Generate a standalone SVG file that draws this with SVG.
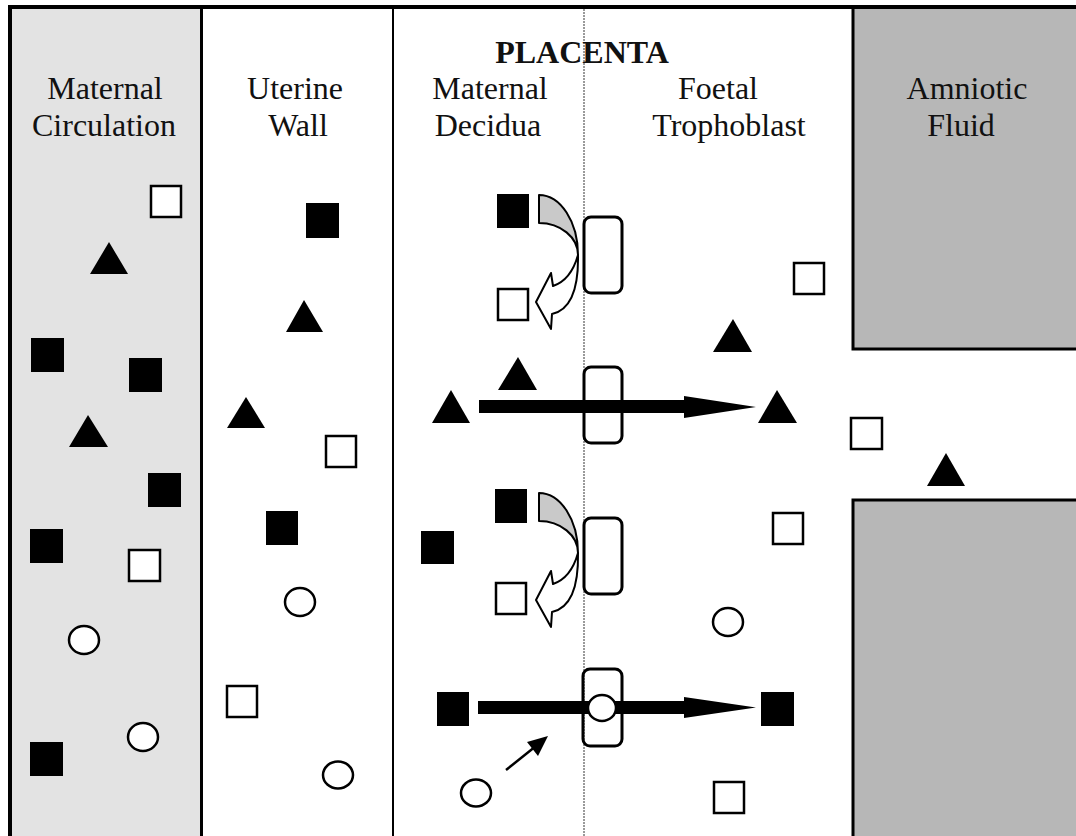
<svg xmlns="http://www.w3.org/2000/svg" xmlns:xlink="http://www.w3.org/1999/xlink" width="1076" height="836" viewBox="0 0 1076 836">
<style>
.lbl{font-family:"Liberation Serif","Times New Roman",serif;font-size:32px;fill:#111;text-anchor:middle}
.ttl{font-weight:bold}
.bsq{fill:#000}
.wsq{fill:#fff;stroke:#000;stroke-width:2.5}
.tri{fill:#000}
.circ{fill:#fff;stroke:#000;stroke-width:2.5}
.trans{fill:none;stroke:#000;stroke-width:3}
.amn{fill:#b7b7b7;stroke:#000;stroke-width:3}
.big{fill:#000}
.cg{fill:#c9c9c9;stroke:#000;stroke-width:2;stroke-linejoin:round}
.cw{fill:#fff;stroke:#000;stroke-width:2;stroke-linejoin:round}
</style>
<defs>
<g id="curved">
<path class="cg" d="M539,195 A39,60 0 0 1 578,255 A39,32 0 0 0 539,223 Z"/>
<path class="cw" d="M578,255 Q579,308 552,314 L551,329 L536,302 L551,273 L553,286 Q571,280 578,255 Z"/>
</g>
</defs>
<rect width="1076" height="836" fill="#fff"/>
<g id="maternal-circulation">
<rect x="12" y="9" width="189" height="827" fill="#e3e3e3"/>
<text class="lbl" x="105" y="99">Maternal</text>
<text class="lbl" x="104" y="136">Circulation</text>
<rect class="wsq" x="151" y="186" width="30" height="31"/>
<polygon class="tri" points="109,242 128,274 90,274"/>
<rect class="bsq" x="31" y="338" width="33" height="34"/>
<rect class="bsq" x="129" y="358" width="33" height="34"/>
<polygon class="tri" points="88,415 108,447 69,447"/>
<rect class="bsq" x="148" y="473" width="33" height="34"/>
<rect class="bsq" x="30" y="529" width="33" height="34"/>
<rect class="wsq" x="129" y="550" width="31" height="31"/>
<ellipse class="circ" cx="84" cy="640" rx="15" ry="14"/>
<ellipse class="circ" cx="143" cy="737" rx="15" ry="14"/>
<rect class="bsq" x="30" y="742" width="33" height="34"/>
</g>
<g id="uterine-wall">
<text class="lbl" x="295" y="99">Uterine</text>
<text class="lbl" x="298" y="136">Wall</text>
<rect class="bsq" x="306" y="203" width="33" height="35"/>
<polygon class="tri" points="304,300 323,332 286,332"/>
<polygon class="tri" points="246,397 265,428 227,428"/>
<rect class="wsq" x="326" y="436" width="30" height="31"/>
<rect class="bsq" x="266" y="511" width="32" height="34"/>
<ellipse class="circ" cx="300" cy="602" rx="15" ry="14"/>
<rect class="wsq" x="227" y="686" width="30" height="31"/>
<ellipse class="circ" cx="338" cy="775" rx="15" ry="13.5"/>
</g>
<g id="amniotic-fluid">
<rect class="amn" x="853" y="7" width="240" height="342"/>
<rect class="amn" x="853" y="500" width="240" height="350"/>
<text class="lbl" x="967" y="99">Amniotic</text>
<text class="lbl" x="961" y="136">Fluid</text>
</g>
<g id="frame" fill="none" stroke="#000">
<line x1="8" y1="7" x2="1076" y2="7" stroke-width="4"/>
<line x1="10" y1="5" x2="10" y2="836" stroke-width="4"/>
<line x1="201.5" y1="7" x2="201.5" y2="836" stroke-width="3"/>
<line x1="393" y1="7" x2="393" y2="836" stroke-width="2"/>
<line x1="584" y1="9" x2="584" y2="836" stroke="#7a7a7a" stroke-width="1.5" stroke-dasharray="2 1"/>
</g>
<g id="placenta">
<text class="lbl ttl" x="582" y="63">PLACENTA</text>
<text class="lbl" x="490" y="99">Maternal</text>
<text class="lbl" x="488" y="136">Decidua</text>
<text class="lbl" x="718" y="99">Foetal</text>
<text class="lbl" x="729" y="136">Trophoblast</text>
<rect class="bsq" x="497" y="194" width="32" height="34"/>
<rect class="wsq" x="498" y="289" width="30" height="31"/>
<polygon class="tri" points="518,357 537,390 498,390"/>
<polygon class="tri" points="451,390 470,423 432,423"/>
<polygon class="tri" points="777,390 797,423 758,423"/>
<rect class="bsq" x="495" y="489" width="32" height="34"/>
<rect class="bsq" x="421" y="531" width="33" height="33"/>
<rect class="wsq" x="496" y="583" width="30" height="31"/>
<rect class="bsq" x="437" y="692" width="32" height="34"/>
<rect class="bsq" x="761" y="692" width="33" height="34"/>
<ellipse class="circ" cx="476" cy="793" rx="15" ry="13.5"/>
<rect class="wsq" x="714" y="782" width="30" height="31"/>
<rect class="wsq" x="794" y="263" width="30" height="31"/>
<polygon class="tri" points="733,319 752,352 713,352"/>
<rect class="wsq" x="773" y="513" width="30" height="31"/>
<ellipse class="circ" cx="728" cy="622" rx="15" ry="14"/>
<rect class="wsq" x="851" y="418" width="31" height="31"/>
<polygon class="tri" points="946,453 965,486 927,486"/>
</g>
<g id="connectors">
<use xlink:href="#curved" href="#curved"/>
<use xlink:href="#curved" href="#curved" transform="translate(0,298)"/>
<path class="big" d="M479,400 H684 V396 L756,407 L684,418 V413 H479 Z"/>
<path class="big" d="M478,701 H684 V697 L756,707.5 L684,718 V714 H478 Z"/>
<line x1="506" y1="770" x2="536" y2="746" stroke="#000" stroke-width="2.5"/>
<polygon class="big" points="548,736 538,756 527,742"/>
</g>
<g id="transporter-1"><rect class="trans" x="584" y="217" width="38" height="76" rx="7"/></g>
<g id="transporter-2"><rect class="trans" x="584" y="367" width="38" height="76" rx="7"/></g>
<g id="transporter-3"><rect class="trans" x="584" y="518" width="38" height="76" rx="7"/></g>
<g id="transporter-4"><rect class="trans" x="583" y="669" width="39" height="77" rx="7"/>
<ellipse class="circ" cx="602" cy="708" rx="14" ry="13"/></g>
</svg>
